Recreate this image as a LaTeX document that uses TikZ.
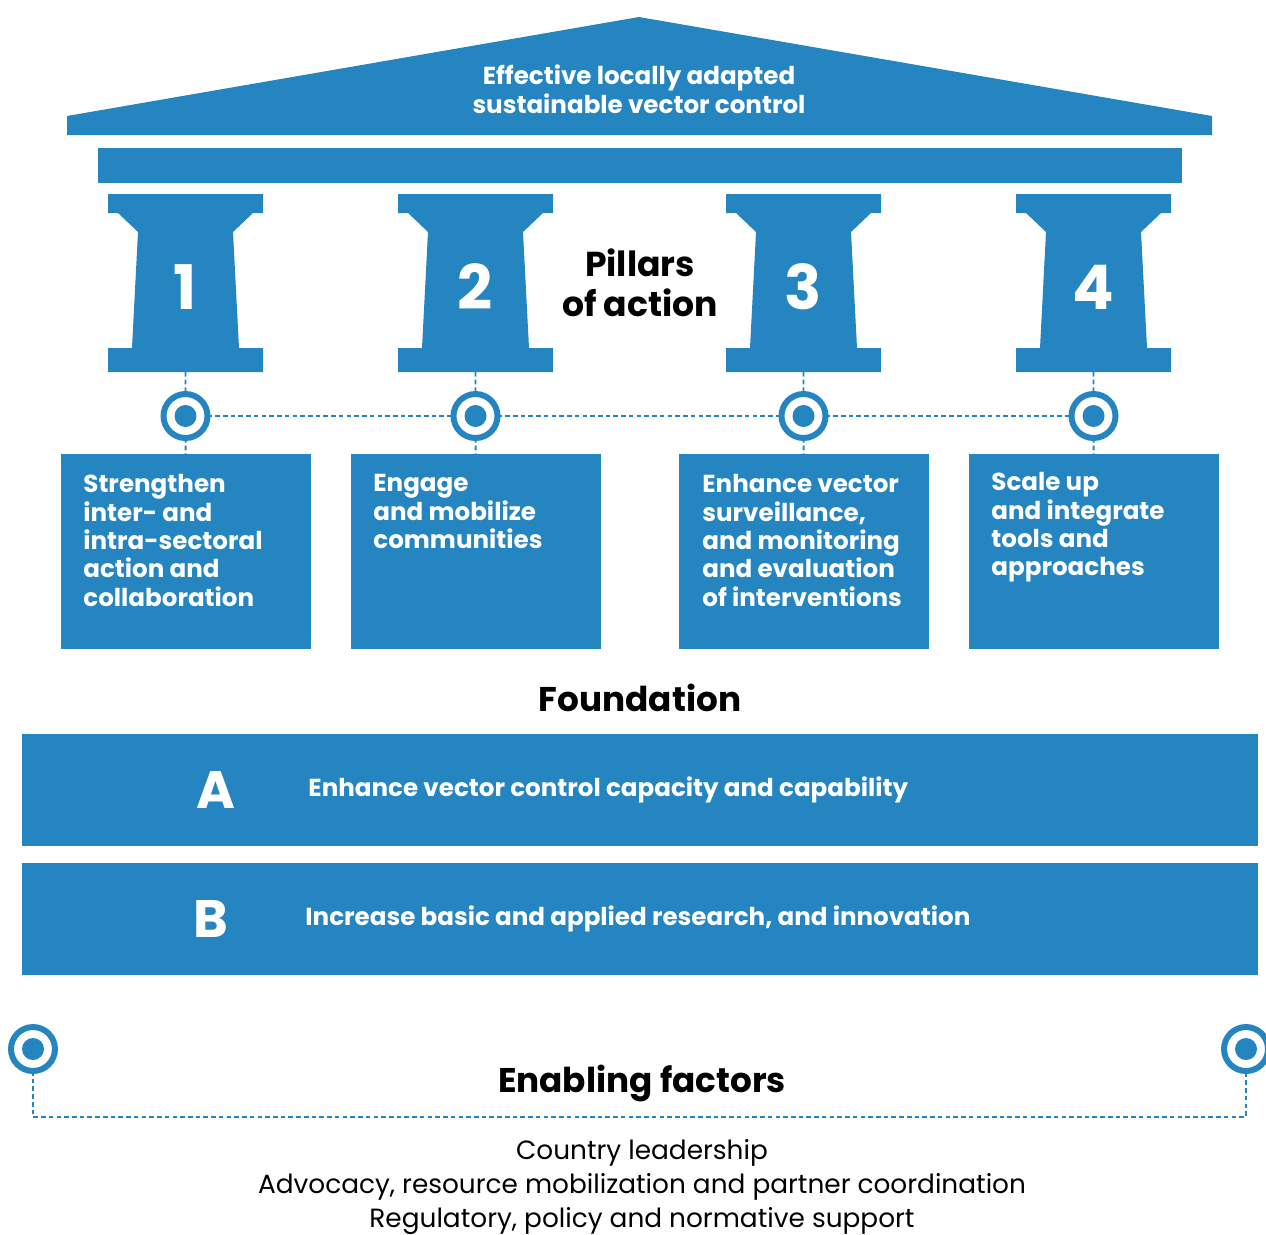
\documentclass[tikz,border=0pt]{standalone}
\usepackage{fontspec}
\setmainfont{Poppins}
\definecolor{whoblue}{RGB}{37,133,192}
\tikzset{
    ring/.style={circle, draw=whoblue, fill=white, line width=3.4pt, minimum size=0.88cm, inner sep=0, outer sep=0,
        path picture={\fill[whoblue] (path picture bounding box.center) circle (0.22cm);}},
    dotline/.style={whoblue, line width=1.1pt, dash pattern=on 2.6pt off 1.8pt},
    pbox/.style={fill=whoblue, minimum width=5cm, minimum height=3.9cm, inner sep=0, outer sep=0},
    ptext/.style={white, anchor=north west, inner sep=0, align=left, font=\fontsize{14}{16.2}\selectfont\bfseries},
    pnum/.style={white, font=\fontsize{35}{40}\selectfont\bfseries},
    fbar/.style={fill=whoblue, minimum width=24.72cm, minimum height=2.24cm, inner sep=0, outer sep=0},
    flet/.style={white, font=\fontsize{30}{34}\selectfont\bfseries},
    ftext/.style={white, anchor=west, inner sep=0, font=\fontsize{14}{16}\selectfont\bfseries},
    heading/.style={font=\fontsize{19.5}{23}\selectfont\bfseries, align=center}
}
\begin{document}
\begin{tikzpicture}[x=0.02cm, y=-0.02cm]
    \useasboundingbox (0,0) rectangle (1266,1234);
    %roof
    \fill[whoblue] (67,135) -- (67,116) -- (639,17) -- (1212,116) -- (1212,135) -- cycle;
    \node[white, align=center, font=\fontsize{14}{16.4}\selectfont\bfseries] (roof) at (639,89) {Effective locally adapted\\sustainable vector control};
    \fill[whoblue] (98,148) rectangle (1182,183);

    %pillars
    \foreach \x/\n in {108/1, 398/2, 726/3, 1016/4} {
        \fill[whoblue, shift={(\x,0)}] (0,194) -- (155,194) -- (155,213) -- (145,213) -- (125,232) -- (131,348)
            -- (155,348) -- (155,372) -- (0,372) -- (0,348) -- (24,348) -- (30,232) -- (10,213) -- (0,213) -- cycle;
        \node[pnum] (n\n) at (\x+77.5,287) {\n};
        \coordinate (p\n) at (\x+77.5,372);
    }
    \node[heading, font=\fontsize{19.7}{22.7}\selectfont\bfseries] (pillars) at (640,283) {Pillars\\of action};

    %rings and boxes
    \node[ring] (c1) at (185.5,416) {};
    \node[ring] (c2) at (475.5,416) {};
    \node[ring] (c3) at (803.5,416) {};
    \node[ring] (c4) at (1093.5,416) {};
    \node[pbox] (b1) at (186,551.5) {};
    \node[pbox] (b2) at (476,551.5) {};
    \node[pbox] (b3) at (804,551.5) {};
    \node[pbox] (b4) at (1094,551.5) {};
    \node[ptext] (t1) at ([shift={(22,20)}]b1.north west) {Strengthen\\inter- and\\intra-sectoral\\action and\\collaboration};
    \node[ptext] (t2) at ([shift={(22,20)}]b2.north west) {Engage\\and mobilize\\communities};
    \node[ptext] (t3) at ([shift={(23,20)}]b3.north west) {Enhance vector\\surveillance,\\and monitoring\\and evaluation\\of interventions};
    \node[ptext] (t4) at ([shift={(22,18)}]b4.north west) {Scale up\\and integrate\\tools and\\approaches};
    \draw[dotline] (p1) -- (c1) -- (b1);
    \draw[dotline] (p2) -- (c2) -- (b2);
    \draw[dotline] (p3) -- (c3) -- (b3);
    \draw[dotline] (p4) -- (c4) -- (b4);
    \draw[dotline] (c1) -- (c2) -- (c3) -- (c4);

    %foundation
    \node[heading] (found) at (640,698) {Foundation};
    \node[fbar] (fa) at (640,790) {};
    \node[fbar] (fb) at (640,919) {};
    \node[flet] (la) at ([shift={(194,0)}]fa.west) {A};
    \node[ftext] (ta) at ([shift={(286,0)}]fa.west) {Enhance vector control capacity and capability};
    \node[flet] (lb) at ([shift={(189,0)}]fb.west) {B};
    \node[ftext] (tb) at ([shift={(283,0)}]fb.west) {Increase basic and applied research, and innovation};

    %enabling factors
    \node[ring] (e1) at (33,1049) {};
    \node[ring] (e2) at (1246,1049) {};
    \coordinate (el) at (33,1117);
    \coordinate (er) at (1246,1117);
    \draw[dotline] (e1) -- (el) -- (er) -- (e2);
    \node[heading] (enab) at (642,1083) {Enabling factors};
    \node[align=center, font=\fontsize{15}{19.6}\selectfont] (facts) at (642,1187) {Country leadership\\Advocacy, resource mobilization and partner coordination\\Regulatory, policy and normative support};
\end{tikzpicture}
\end{document}
